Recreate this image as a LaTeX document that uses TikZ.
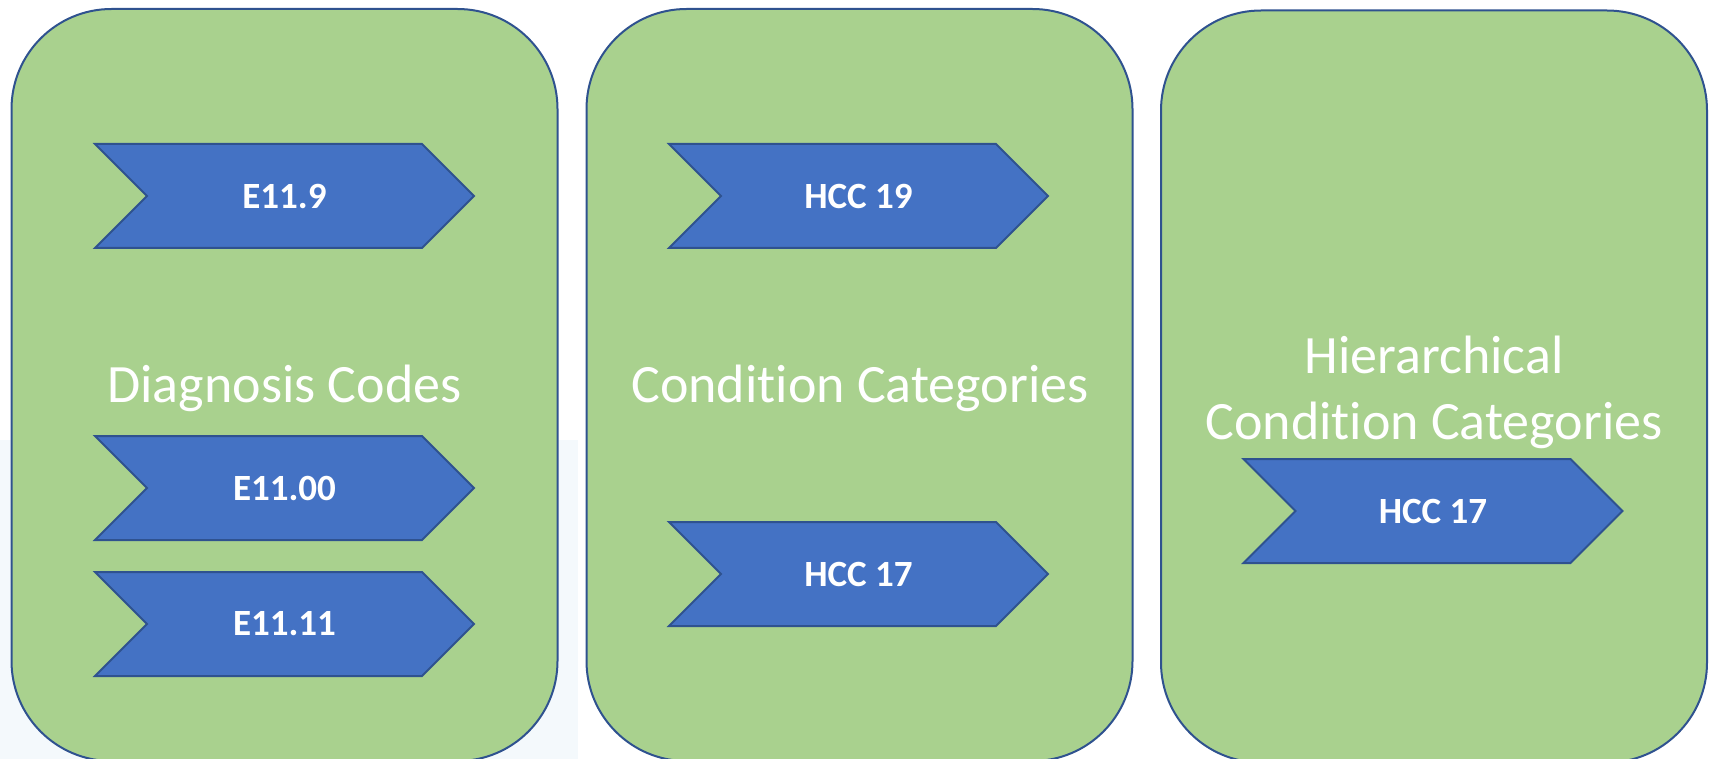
\documentclass[tikz,border=0pt]{standalone}
\usepackage{fontspec}
\setmainfont{Carlito}[Ligatures={NoCommon,NoRequired,NoContextual}]
\usetikzlibrary{shapes.symbols}
\definecolor{boxgreen}{HTML}{A9D18E}
\definecolor{edgeblue}{HTML}{2F528F}
\definecolor{codeblue}{HTML}{4472C4}
\definecolor{haze}{HTML}{F4F9FC}
\tikzset{
	group/.style={draw=edgeblue, line width=2pt, fill=boxgreen, rounded corners=100pt,
		minimum width=546pt, minimum height=752pt, inner sep=0pt},
	code/.style={shape=signal, signal from=west, signal to=east, signal pointer angle=90,
		draw=edgeblue, line width=2pt, fill=codeblue, minimum width=379pt, minimum height=104pt,
		inner sep=0pt, text=white, font=\fontsize{37}{44}\selectfont\bfseries},
	title/.style={text=white, align=center, font=\fontsize{54}{66}\selectfont}
}

\begin{document}
\begin{tikzpicture}[x=1pt, y=-1pt]
			%%%%% START %%%%%
			\useasboundingbox (0, 0) rectangle (1715, 759);
			\fill[haze] (0, 440) rectangle (578, 759);
			
			% three groups
			\node[group] (diag) at (284.5, 385) {};
			\node[group] (cond) at (859.5, 385) {};
			\node[group] (hier) at (1434, 386.5) {};
			
			% diagnosis codes
			\node[code] (e119) at (284.5, 196) {E11.9};
			\node[title] (diagtitle) at (284.5, 388) {Diagnosis Codes};
			\node[code] (e1100) at (284.5, 488) {E11.00};
			\node[code] (e1111) at (284.5, 624) {E11.11};
			
			% condition categories
			\node[code] (cc19) at (858.5, 196) {HCC 19};
			\node[title] (condtitle) at (860, 388) {Condit\kern0pt ion Categories};
			\node[code] (cc17) at (858.5, 574) {HCC 17};
			
			% hierarchical condition categories
			\node[title] (hiertitle) at (1434, 392) {Hierarchical\\Condit\kern0pt ion Categories};
			\node[code] (hcc17) at (1433, 511) {HCC 17};
			%%%%% END %%%%%
		\end{tikzpicture}
\end{document}
